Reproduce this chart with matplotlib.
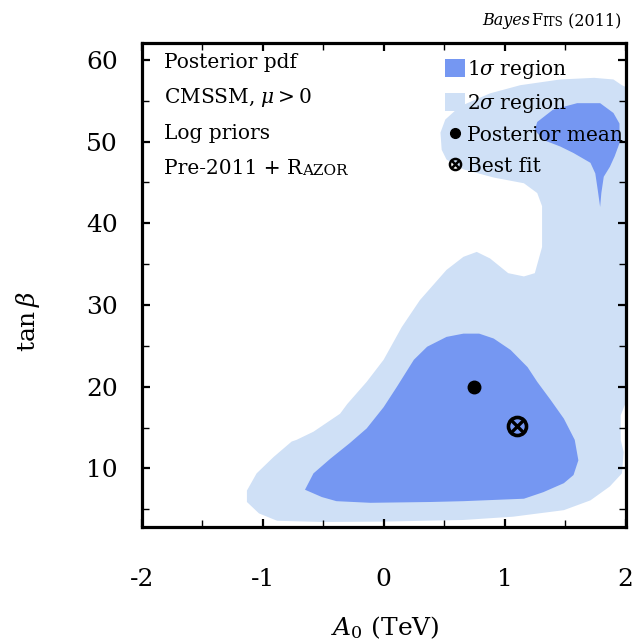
import matplotlib.pyplot as plt
from matplotlib.lines import Line2D
from matplotlib.patches import Patch
from matplotlib.ticker import MultipleLocator

plt.rcParams["font.family"] = "DejaVu Serif"
plt.rcParams["mathtext.fontset"] = "dejavuserif"
plt.rcParams["axes.unicode_minus"] = False

# contorno 2 sigma (region externa, se sale por la derecha)
a0_2sig = [-1.13, -1.13, -1.03, -0.88, -0.50, 0.00, 0.66, 1.07, 1.49, 1.71,
           1.87, 1.97, 1.985, 1.96, 1.96, 2.00, 2.10, 2.10, 1.97, 1.90,
           1.74, 1.46, 1.13, 0.88, 0.63, 0.51, 0.47, 0.48, 0.52, 0.66,
           0.91, 1.16, 1.27, 1.31, 1.31, 1.25, 1.16, 1.03, 0.88, 0.77,
           0.66, 0.52, 0.30, 0.15, 0.00, -0.14, -0.30, -0.36, -0.52, -0.58,
           -0.72, -0.76, -0.91, -1.05]
tanb_2sig = [7.3, 5.9, 4.5, 3.6, 3.45, 3.5, 3.7, 4.1, 4.9, 6.1,
             7.8, 9.4, 12.0, 13.5, 16.5, 18.0, 18.0, 56.0, 56.9, 57.6,
             57.8, 57.6, 56.9, 55.9, 54.3, 52.7, 51.1, 49.0, 47.8, 46.6,
             45.6, 44.9, 43.7, 42.1, 37.1, 33.9, 33.5, 33.9, 35.7, 36.5,
             35.9, 34.3, 30.6, 27.3, 23.3, 20.6, 17.9, 16.7, 15.1, 14.5,
             13.5, 13.3, 11.4, 9.4]

# contorno 1 sigma, isla principal
a0_1sig_low = [-0.65, -0.58, -0.44, -0.28, -0.14, 0.00, 0.11, 0.25, 0.36, 0.52,
               0.66, 0.79, 0.91, 1.05, 1.19, 1.27, 1.38, 1.49, 1.58, 1.61,
               1.57, 1.49, 1.32, 1.16, 0.66, 0.39, -0.11, -0.39, -0.51]
tanb_1sig_low = [7.4, 9.4, 11.2, 13.1, 14.9, 17.5, 20.0, 23.3, 24.9, 26.1,
                 26.5, 26.5, 25.9, 24.5, 22.4, 20.6, 18.4, 16.1, 13.5, 11.0,
                 9.2, 8.2, 7.1, 6.3, 6.0, 5.9, 5.8, 6.0, 6.5]

# contorno 1 sigma, isla de tan(beta) alto
a0_1sig_high = [1.25, 1.27, 1.40, 1.60, 1.79, 1.90, 1.95, 1.95, 1.91, 1.87,
                1.82, 1.80, 1.79, 1.77, 1.75, 1.71, 1.57, 1.46, 1.32]
tanb_1sig_high = [51.4, 52.4, 53.9, 54.7, 54.7, 53.5, 52.2, 49.8, 48.2, 46.9,
                  45.7, 43.7, 42.0, 44.1, 46.1, 47.4, 48.6, 49.4, 50.2]

media_a0, media_tanb = 0.75, 20.0
mejor_a0, mejor_tanb = 1.10, 15.2

etiquetas_x = [-2, -1, 0, 1, 2]
etiquetas_y = [10, 20, 30, 40, 50, 60]

color_1sig = "#7597f2"
color_2sig = "#cfe0f6"

fig = plt.figure(figsize=(6.4, 6.42), dpi=100)
ax = fig.add_axes([0.2214, 0.1799, 0.756, 0.7536])

ax.fill(a0_2sig, tanb_2sig, color=color_2sig, lw=0, zorder=1)
ax.fill(a0_1sig_low, tanb_1sig_low, color=color_1sig, lw=0, zorder=2)
ax.fill(a0_1sig_high, tanb_1sig_high, color=color_1sig, lw=0, zorder=2)

ax.plot([media_a0], [media_tanb], "o", color="black", ms=9, zorder=4)
ax.plot([mejor_a0], [mejor_tanb], "o", mfc="none", mec="black", ms=13, mew=2.6, zorder=4)
ax.plot([mejor_a0], [mejor_tanb], "x", color="black", ms=9, mew=2.4, zorder=4)

ax.set_xlim(-2, 2)
ax.set_ylim(2.9, 62.1)
ax.set_xticks(etiquetas_x)
ax.set_xticklabels([str(v) for v in etiquetas_x])
ax.set_yticks(etiquetas_y)
ax.xaxis.set_minor_locator(MultipleLocator(0.5))
ax.yaxis.set_minor_locator(MultipleLocator(5))
ax.tick_params(which="both", direction="in", top=True, right=True, labelsize=18)
ax.tick_params(which="major", length=6, width=1.6)
ax.tick_params(which="minor", length=5, width=1.0)
ax.tick_params(axis="x", pad=30)
ax.tick_params(axis="y", pad=17)
for s in ax.spines.values():
    s.set_linewidth(2.3)

ax.set_xlabel(r"$A_0$ (TeV)", fontsize=18)
ax.xaxis.set_label_coords(0.503, -0.181)
ax.set_ylabel(r"$\tan\beta$", fontsize=18, va="center")
ax.yaxis.set_label_coords(-0.235, 0.423)

# bloque de texto arriba a la izquierda
tam = 14.5
ax.text(0.046, 0.9483, "Posterior pdf", transform=ax.transAxes, fontsize=tam, va="baseline")
ax.text(0.046, 0.8747, r"CMSSM, $\mu>0$", transform=ax.transAxes, fontsize=tam, va="baseline")
ax.text(0.046, 0.8003, "Log priors", transform=ax.transAxes, fontsize=tam, va="baseline")
t = ax.text(0.046, 0.7280, "Pre-2011 + R", transform=ax.transAxes, fontsize=tam, va="baseline")
ax.annotate("AZOR", xy=(1, 0), xycoords=t, fontsize=11, va="bottom", ha="left")

# leyenda
manejadores = [
    Patch(facecolor=color_1sig, edgecolor="none"),
    Patch(facecolor=color_2sig, edgecolor="none"),
    Line2D([], [], ls="none", marker="o", color="black", ms=7),
    (Line2D([], [], ls="none", marker="o", mfc="none", mec="black", ms=8, mew=1.8),
     Line2D([], [], ls="none", marker="x", color="black", ms=5.5, mew=1.8)),
]
textos = [r"1$\sigma$ region", r"2$\sigma$ region", "Posterior mean", "Best fit"]
ax.legend(manejadores, textos, loc="upper left", bbox_to_anchor=(0.627, 0.968),
          frameon=False, fontsize=tam, handlelength=1.0, handleheight=1.0,
          handletextpad=0.1, labelspacing=0.53, borderpad=0, borderaxespad=0)

# titulo arriba a la derecha, armado de derecha a izquierda
p1 = fig.text(621 / 640, 1 - 25 / 642, " (2011)", fontsize=11.5, ha="right", va="baseline")
p2 = ax.annotate("ITS", xy=(0, 0), xycoords=p1, fontsize=8.5, ha="right", va="bottom",
                 annotation_clip=False)
p3 = ax.annotate("F", xy=(0, 0), xycoords=p2, fontsize=11.5, ha="right", va="bottom",
                 annotation_clip=False)
ax.annotate("Bayes", xy=(0, 0), xycoords=p3, fontsize=11.5, style="italic", ha="right",
            va="bottom", annotation_clip=False)

fig.savefig("out.png", dpi=100)
